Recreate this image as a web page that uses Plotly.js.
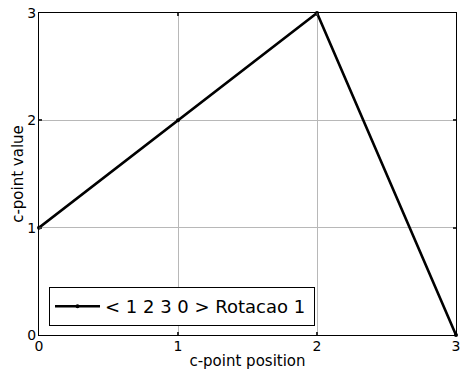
<!DOCTYPE html>
<html>
<head>
<meta charset="utf-8">
<script src="https://cdn.plot.ly/plotly-3.0.1.min.js"></script>
<style>
  html, body { margin: 0; padding: 0; background: #fff; }
  #chart { width: 462px; height: 376px; }
</style>
</head>
<body>
<div id="chart"></div>
<script>
// c-point positions and the rotated sequence values
const positions = [0, 1, 2, 3];
const values = [1, 2, 3, 0];
const seriesName = '< 1 2 3 0 > Rotacao 1';
const tickValues = [0, 1, 2, 3];
const tickLabels = ['0', '1', '2', '3'];

const font = 'DejaVu Sans, sans-serif';

const trace = {
  x: positions,
  y: values,
  mode: 'lines+markers',
  name: seriesName,
  line: { color: '#000', width: 2.6 },
  marker: { color: '#000', size: 4 },
  cliponaxis: false
};

const axisCommon = {
  range: [0, 3],
  tickvals: tickValues,
  ticktext: tickLabels,
  showgrid: true,
  gridcolor: '#b8b8b8',
  gridwidth: 1,
  zeroline: false,
  showline: true,
  linecolor: '#000',
  linewidth: 1,
  mirror: 'ticks',
  ticks: 'inside',
  ticklen: 3,
  tickwidth: 2,
  tickcolor: '#333',
  tickfont: { family: font, size: 14, color: '#000' },
  fixedrange: true
};

const layout = {
  width: 462,
  height: 376,
  margin: { l: 39, r: 6, t: 13, b: 41 },
  paper_bgcolor: '#fff',
  plot_bgcolor: '#fff',
  showlegend: true,
  xaxis: Object.assign({}, axisCommon, {
    title: { text: 'c-point position', font: { family: font, size: 15, color: '#000' }, standoff: 2 },
    ticklabelstandoff: -2
  }),
  yaxis: Object.assign({}, axisCommon, {
    title: { text: 'c-point value', font: { family: font, size: 15, color: '#000' }, standoff: 0 },
    ticklabelstandoff: -1
  }),
  legend: {
    orientation: 'h',
    entrywidth: 204,
    entrywidthmode: 'pixels',
    x: 0.024, y: 0.028, xanchor: 'left', yanchor: 'bottom',
    bgcolor: '#fff',
    bordercolor: '#000',
    borderwidth: 1,
    itemwidth: 45,
    font: { family: font, size: 18, color: '#000' }
  }
};

Plotly.newPlot('chart', [trace], layout, { displayModeBar: false, staticPlot: true });
</script>
</body>
</html>
